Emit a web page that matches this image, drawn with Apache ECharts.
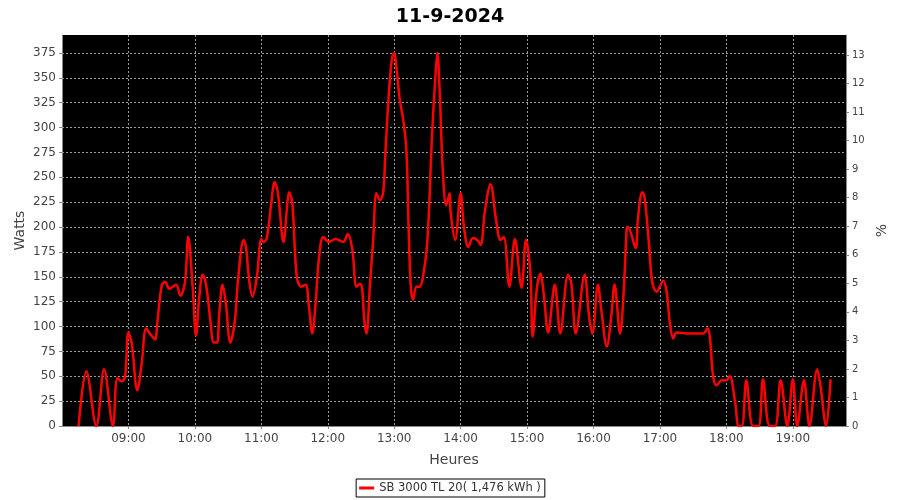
<!DOCTYPE html>
<html>
<head>
<meta charset="utf-8">
<script src="https://cdn.jsdelivr.net/npm/echarts@6/dist/echarts.min.js"></script>
<style>html,body{margin:0;padding:0;background:#fff;}#c{width:900px;height:500px;}</style>
</head>
<body>
<div id="c"></div>
<script>
var chartTitle = '11-9-2024';
var seriesName = 'SB 3000 TL 20( 1,476 kWh )';
var times = ['08:15','08:22','08:31','08:38','08:46','08:50','08:54','08:57','09:00','09:03','09:08','09:12','09:16','09:20','09:24','09:26','09:30','09:33','09:37','09:43','09:47','09:51','09:54','09:58','10:01','10:04','10:07','10:10','10:14','10:17','10:20','10:22','10:25','10:28','10:32','10:36','10:39','10:44','10:46','10:49','10:52','10:56','11:00','11:02','11:05','11:09','11:12','11:15','11:20','11:23','11:25','11:28','11:32','11:36','11:40','11:43','11:46','11:49','11:52','11:56','12:01','12:07','12:14','12:18','12:22','12:26','12:29','12:31','12:33','12:35','12:38','12:41','12:44','12:47','12:50','12:52','12:55','12:58','13:00','13:02','13:05','13:08','13:11','13:13','13:15','13:17','13:20','13:23','13:26','13:30','13:34','13:37','13:39','13:41','13:44','13:47','13:50','13:51','13:55','14:00','14:03','14:07','14:11','14:15','14:18','14:22','14:27','14:32','14:36','14:39','14:44','14:49','14:55','14:59','15:03','15:05','15:09','15:12','15:15','15:19','15:25','15:30','15:37','15:40','15:44','15:52','15:56','15:59','16:04','16:07','16:12','16:16','16:19','16:24','16:27','16:30','16:31','16:38','16:40','16:44','16:46','16:50','16:53','16:57','17:03','17:06','17:09','17:12','17:15','17:27','17:39','17:43','17:45','17:48','17:51','17:56','18:00','18:03','18:08','18:11','18:14','18:18','18:24','18:29','18:33','18:39','18:44','18:49','18:55','19:00','19:04','19:10','19:15','19:22','19:25','19:30','19:34'];
var watts = [0,55,0,57,0,48,45,50,94,83,36,63,98,92,87,103,141,145,138,142,131,144,190,140,91,130,152,143,106,84,84,113,142,123,84,105,147,187,181,147,130,150,188,185,189,224,245,234,185,217,235,224,150,140,142,120,93,123,168,190,185,188,185,193,179,140,143,138,106,93,140,187,234,227,234,274,331,370,375,361,328,309,277,200,140,127,140,140,150,187,288,348,375,338,254,222,234,214,187,234,200,180,189,187,182,217,243,207,187,190,140,188,139,187,153,90,140,153,133,94,142,93,152,143,93,152,110,93,142,117,80,110,142,93,130,199,200,179,207,235,231,184,145,135,146,135,103,88,94,93,93,98,90,50,41,46,46,50,23,0,0,46,0,0,47,0,0,46,0,47,0,46,0,57,40,0,47];
var hourLabels = ['08:00','09:00','10:00','11:00','12:00','13:00','14:00','15:00','16:00','17:00','18:00','19:00'];

function toMin(t){var p=t.split(':');return +p[0]*60 + +p[1];}
var data = times.map(function(t,i){return [toMin(t), watts[i]];});

var font = 'DejaVu Sans';
var gridLine = {show:true,showMinLine:false,showMaxLine:false,lineStyle:{color:'#9a9a9a',type:[2,2],width:1}};
var chart = echarts.init(document.getElementById('c'), null, {renderer:'canvas'});
chart.setOption({
  animation:false,
  backgroundColor:'#ffffff',
  title:{text:chartTitle,left:'center',top:3,textStyle:{fontFamily:font,fontSize:19,fontWeight:'bold',color:'#000'}},
  grid:{left:62,right:54,top:35,bottom:74,show:true,backgroundColor:'#000000',borderWidth:0},
  legend:{bottom:3,left:'center',data:[seriesName],borderColor:'#000',borderWidth:1,borderRadius:0,padding:[3,4,3,3],
    itemWidth:15,itemHeight:3,icon:'rect',itemGap:3,textStyle:{fontFamily:font,fontSize:11.5,color:'#333'}},
  xAxis:{type:'value',min:480,max:1188,interval:60,
    name:'Heures',nameLocation:'middle',nameGap:27,nameMoveOverlap:false,nameTextStyle:{fontFamily:font,fontSize:14,color:'#444'},
    axisLine:{show:true,lineStyle:{color:'#888'}},axisTick:{show:true,length:3,lineStyle:{color:'#888'}},
    axisLabel:{fontFamily:font,fontSize:12,color:'#444',margin:7,showMinLabel:false,showMaxLabel:false,
      formatter:function(v){if(v%60!==0)return '';var h=v/60;return hourLabels[h-8]||'';}},
    splitLine:gridLine},
  yAxis:[{type:'value',min:0,max:393,interval:25,
    name:'Watts',nameLocation:'middle',nameGap:35,nameMoveOverlap:false,nameTextStyle:{fontFamily:font,fontSize:14,color:'#444'},
    axisLine:{show:true,lineStyle:{color:'#888'}},axisTick:{show:true,length:3,lineStyle:{color:'#888'}},
    axisLabel:{fontFamily:font,fontSize:12,color:'#444',margin:6,showMaxLabel:false,formatter:function(v){return v%25===0?String(v):'';}},
    splitLine:gridLine},
   {type:'value',min:0,max:13.7,interval:1,position:'right',
    name:'%',nameLocation:'middle',nameGap:29,nameMoveOverlap:false,nameTextStyle:{fontFamily:font,fontSize:14,color:'#444'},
    axisLine:{show:true,lineStyle:{color:'#888'}},axisTick:{show:true,length:3,lineStyle:{color:'#888'}},
    axisLabel:{fontFamily:font,fontSize:10,color:'#444',margin:6,showMaxLabel:false,formatter:function(v){return Number.isInteger(v)?String(v):'';}},
    splitLine:{show:false}}],
  series:[{name:seriesName,type:'line',yAxisIndex:0,data:data,smooth:0.35,showSymbol:false,
    lineStyle:{color:'#ff0000',width:2.5},itemStyle:{color:'#ff0000'},clip:true}]
});
</script>
</body>
</html>
